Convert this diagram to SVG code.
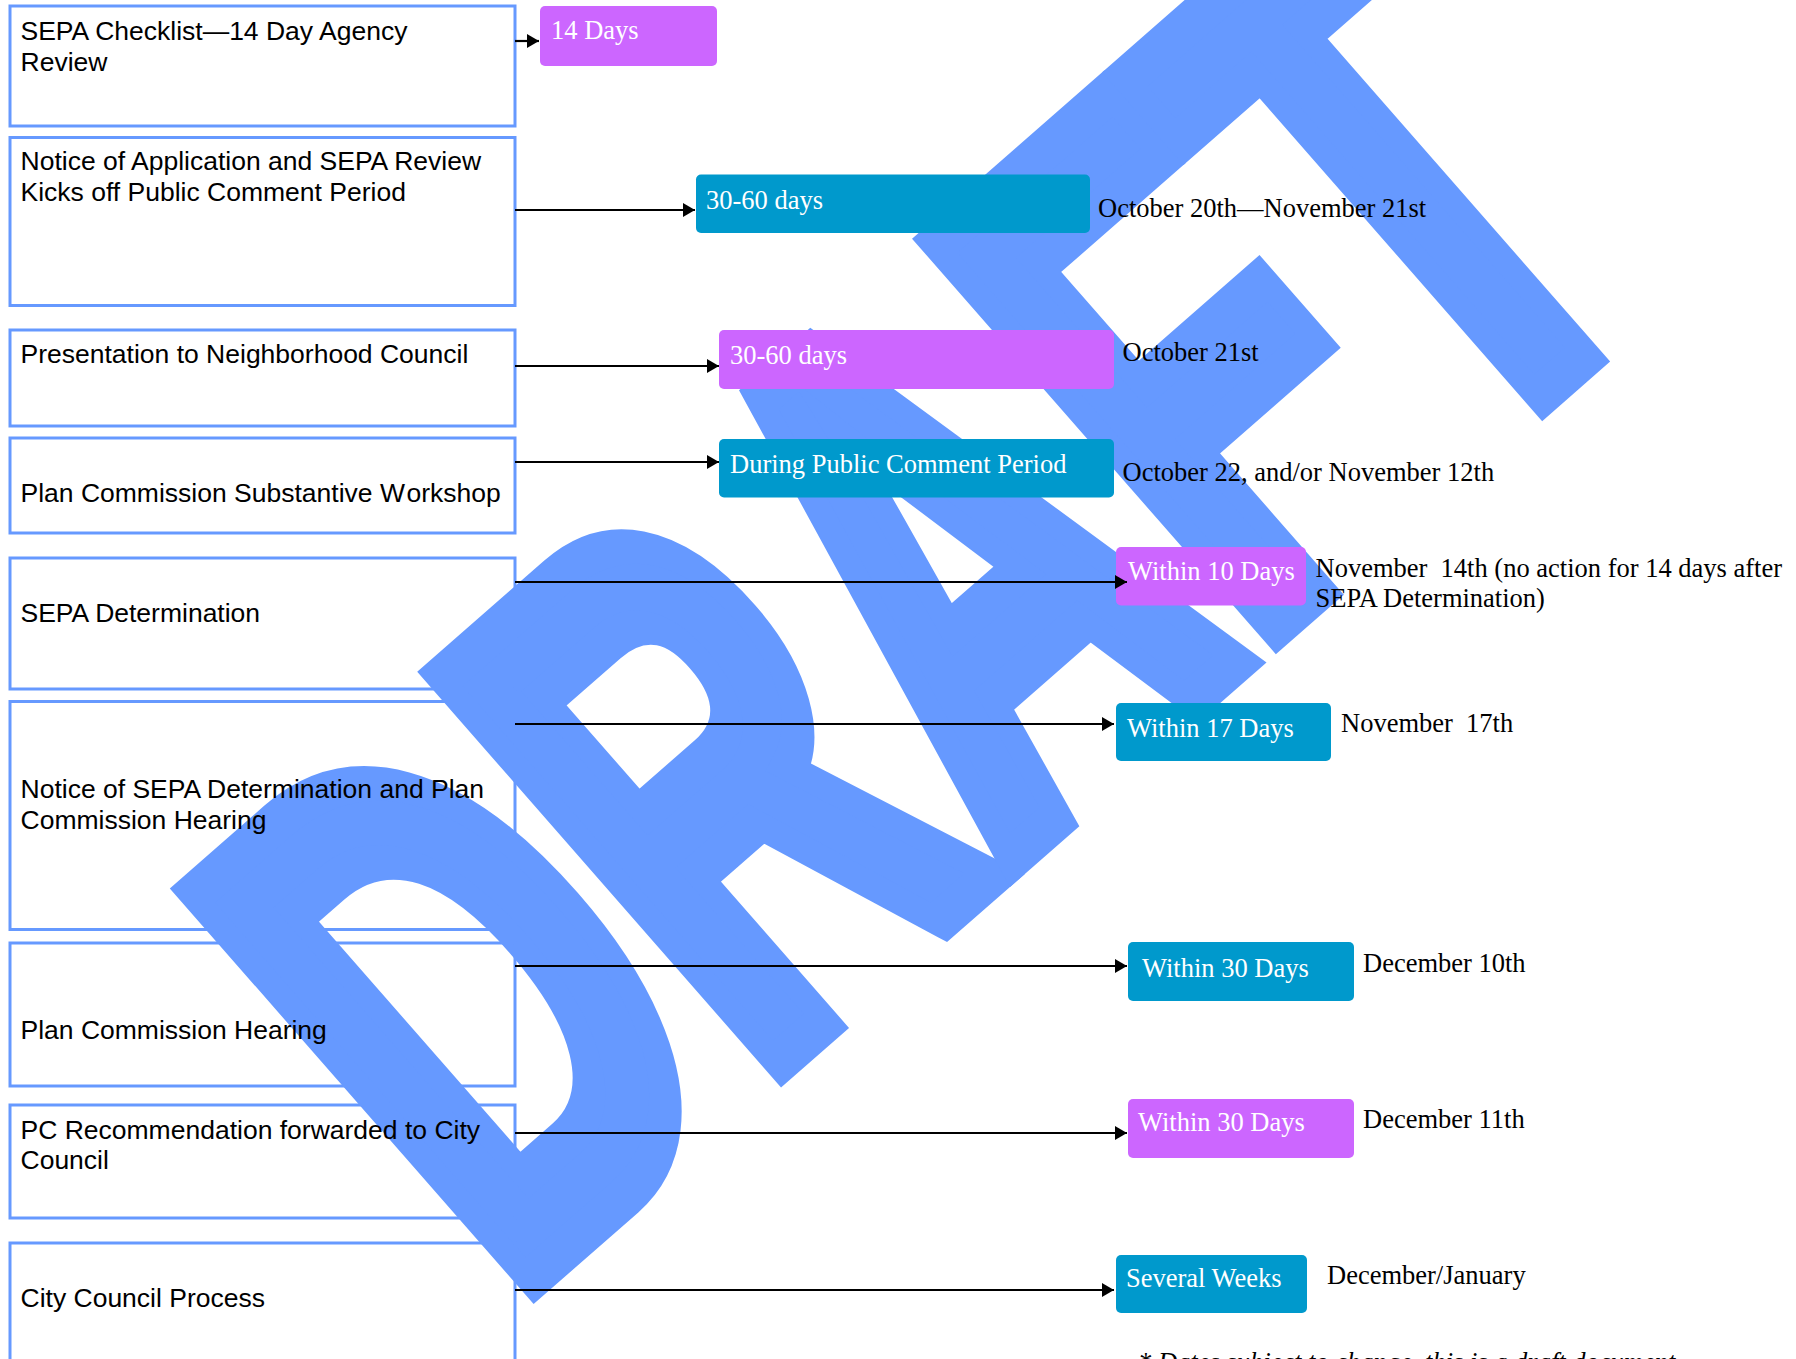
<svg xmlns="http://www.w3.org/2000/svg" width="1796" height="1359" viewBox="0 0 1796 1359">
<style>
.step{fill:none;stroke:#6699FF;stroke-width:3}
.lt{font-family:"Liberation Sans",Arial,sans-serif;font-size:26.5px;fill:#000}
.pill-m{fill:#CC66FF}
.pill-t{fill:#0099CC}
.pt{font-family:"Liberation Serif","Times New Roman",serif;font-size:26.5px;fill:#FFFFFF}
.dt{font-family:"Liberation Serif","Times New Roman",serif;font-size:26.5px;fill:#000}
.arr{stroke:#000;stroke-width:2.2;fill:none;marker-end:url(#ah)}
</style>
<defs>
<marker id="ah" markerUnits="userSpaceOnUse" markerWidth="13" markerHeight="14" refX="12" refY="7" orient="auto" viewBox="0 0 13 14">
<path d="M0,0 L12,7 L0,14 z" fill="#000"/>
</marker>
</defs>
<rect width="1796" height="1359" fill="#FFFFFF"/>
<text id="watermark" transform="translate(506.7,1300.7) rotate(-41.2) scale(0.612,1)" font-family="Liberation Sans,Arial,sans-serif" font-weight="bold" font-size="744" fill="#6699FF" stroke="#6699FF" stroke-width="40.5" stroke-linejoin="miter">DRAFT</text>

<g id="step1"><rect class="step" x="10" y="6" width="505" height="120"/>
<text class="lt" x="20.5" y="40">SEPA Checklist—14 Day Agency</text>
<text class="lt" x="20.5" y="71">Review</text></g>
<g id="step2"><rect class="step" x="10" y="137.5" width="505" height="168"/>
<text class="lt" x="20.5" y="170">Notice of Application and SEPA Review</text>
<text class="lt" x="20.5" y="201">Kicks off Public Comment Period</text></g>
<g id="step3"><rect class="step" x="10" y="330" width="505" height="96"/>
<text class="lt" x="20.5" y="363">Presentation to Neighborhood Council</text></g>
<g id="step4"><rect class="step" x="10" y="438" width="505" height="95"/>
<text class="lt" x="20.5" y="502">Plan Commission Substantive W<tspan dx="2">orkshop</tspan></text></g>
<g id="step5"><rect class="step" x="10" y="558" width="505" height="131"/>
<text class="lt" x="20.5" y="622">SEPA Determination</text></g>
<g id="step6"><rect class="step" x="10" y="701.5" width="505" height="228"/>
<text class="lt" x="20.5" y="798">Notice of SEPA Determination and Plan</text>
<text class="lt" x="20.5" y="828.5">Commission Hearing</text></g>
<g id="step7"><rect class="step" x="10" y="943" width="505" height="143"/>
<text class="lt" x="20.5" y="1038.5">Plan Commission Hearing</text></g>
<g id="step8"><rect class="step" x="10" y="1105" width="505" height="113"/>
<text class="lt" x="20.5" y="1139">PC Recommendation forwarded to City</text>
<text class="lt" x="20.5" y="1169">Council</text></g>
<g id="step9"><rect class="step" x="10" y="1243" width="505" height="140"/>
<text class="lt" x="20.5" y="1307">City Council Process</text></g>

<g id="dur1"><rect class="pill-m" x="540" y="6" width="177" height="60" rx="5"/>
<text class="pt" x="551" y="39">14 Days</text></g>
<g id="dur2"><rect class="pill-t" x="696" y="174.5" width="394" height="58.5" rx="5"/>
<text class="pt" x="706" y="209">30-60 days</text></g>
<g id="date2"><text class="dt" x="1098" y="217">October 20th—November 21st</text></g>
<g id="dur3"><rect class="pill-m" x="719" y="330" width="395" height="59" rx="5"/>
<text class="pt" x="730" y="364">30-60 days</text></g>
<g id="date3"><text class="dt" x="1122.5" y="360.5">October 21st</text></g>
<g id="dur4"><rect class="pill-t" x="719" y="439" width="395" height="58.5" rx="5"/>
<text class="pt" x="730" y="472.5">During Public Comment Period</text></g>
<g id="date4"><text class="dt" x="1122.5" y="481">October 22, and/or November 12th</text></g>
<g id="dur5"><rect class="pill-m" x="1116" y="547" width="190" height="58.5" rx="5"/>
<text class="pt" x="1128" y="580">Within 10 Days</text></g>
<g id="date5"><text class="dt" x="1315.5" y="577" xml:space="preserve">November  14th (no action for 14 days after</text>
<text class="dt" x="1315.5" y="607">SEPA Determination)</text></g>
<g id="dur6"><rect class="pill-t" x="1116" y="703" width="215" height="58" rx="5"/>
<text class="pt" x="1127" y="737">Within 17 Days</text></g>
<g id="date6"><text class="dt" x="1341" y="732" xml:space="preserve">November  17th</text></g>
<g id="dur7"><rect class="pill-t" x="1128" y="942" width="226" height="59" rx="5"/>
<text class="pt" x="1142" y="977">Within 30 Days</text></g>
<g id="date7"><text class="dt" x="1363" y="972">December 10th</text></g>
<g id="dur8"><rect class="pill-m" x="1128" y="1099" width="226" height="59" rx="5"/>
<text class="pt" x="1138" y="1131">Within 30 Days</text></g>
<g id="date8"><text class="dt" x="1363" y="1128">December 11th</text></g>
<g id="dur9"><rect class="pill-t" x="1116" y="1255" width="191" height="58" rx="5"/>
<text class="pt" x="1126" y="1287">Several Weeks</text></g>
<g id="date9"><text class="dt" x="1327" y="1284">December/January</text></g>
<g id="note"><text class="dt" x="1138" y="1371" font-style="italic">* Dates subject to change, this is a draft document</text></g>

<g id="connectors">
<line class="arr" x1="515" y1="41" x2="539" y2="41"/>
<line class="arr" x1="515" y1="210" x2="695" y2="210"/>
<line class="arr" x1="515" y1="366" x2="719" y2="366"/>
<line class="arr" x1="515" y1="462" x2="719" y2="462"/>
<line class="arr" x1="515" y1="582" x2="1127" y2="582"/>
<line class="arr" x1="515" y1="724" x2="1114" y2="724"/>
<line class="arr" x1="515" y1="966" x2="1127" y2="966"/>
<line class="arr" x1="515" y1="1133" x2="1127" y2="1133"/>
<line class="arr" x1="515" y1="1290" x2="1114" y2="1290"/>
</g>
</svg>
